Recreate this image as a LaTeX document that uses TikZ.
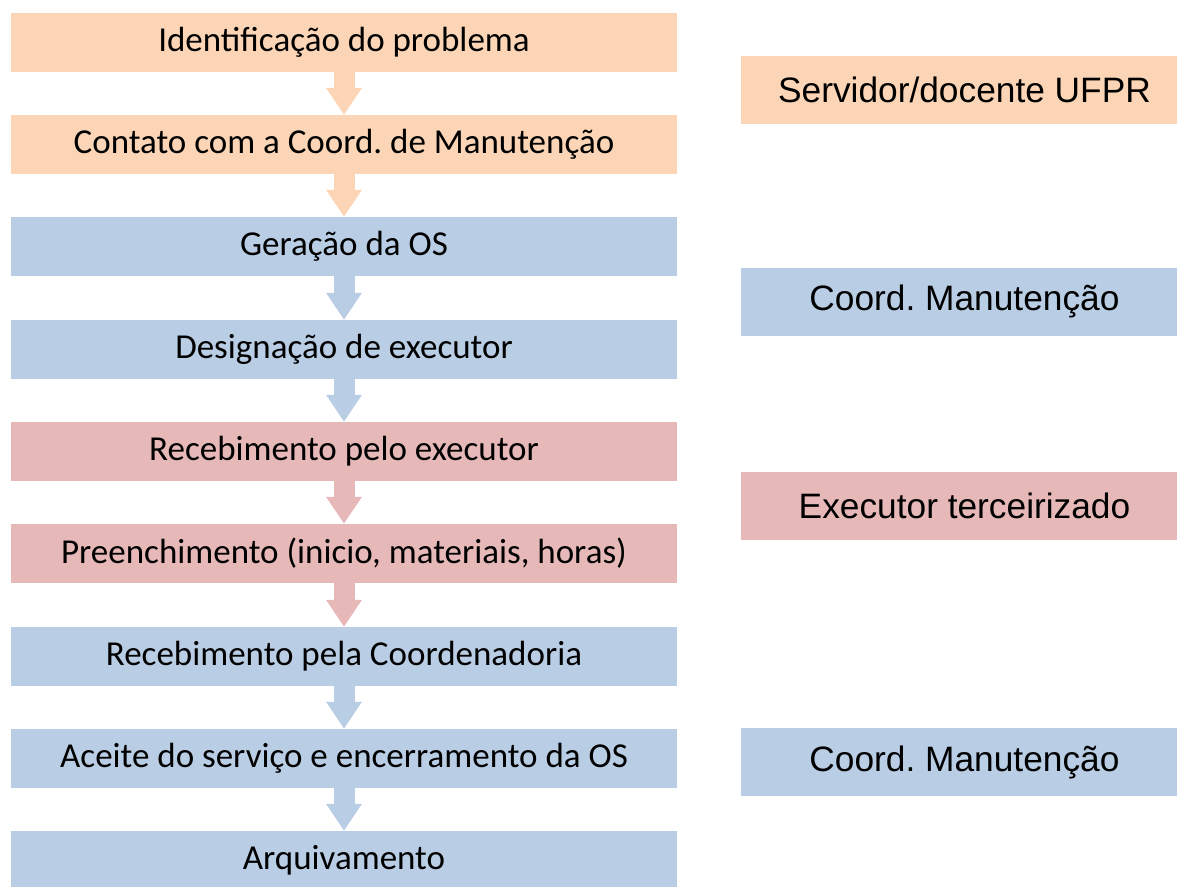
\documentclass[tikz,border=0pt]{standalone}
\usepackage{fontspec}
\setmainfont{Carlito}
\newfontfamily\arialf{Liberation Sans}
\usetikzlibrary{arrows.meta}
\definecolor{peach}{HTML}{FBD5B5}
\definecolor{bluebox}{HTML}{B9CDE5}
\definecolor{pinkbox}{HTML}{E6B9B8}
\frenchspacing
\tikzset{
  stepbox/.style={minimum width=666pt, minimum height=59pt, inner sep=0pt, font=\fontsize{35}{40}\selectfont},
  rolebox/.style={minimum width=447pt, minimum height=68pt, inner sep=0pt, font=\arialf\fontsize{35.3}{40}\selectfont},
  flow/.style={line width=21pt, -{Triangle[width=34pt,length=27pt]}},
}
\begin{document}
\begin{tikzpicture}[x=1pt,y=1pt]
\useasboundingbox (0,0) rectangle (1177,-886);
\clip (0,0) rectangle (1177,-886);
\node[stepbox, fill=peach] (s1) at (344,-42.5) {Identificação do problema};
\node[stepbox, fill=peach] (s2) at (344,-144.5) {Contato com a Coord. de Manutenção};
\node[stepbox, fill=bluebox] (s3) at (344,-246.5) {Geração da OS};
\node[stepbox, fill=bluebox] (s4) at (344,-349.5) {Designação de executor};
\node[stepbox, fill=pinkbox] (s5) at (344,-451.5) {Recebimento pelo executor};
\node[stepbox, fill=pinkbox] (s6) at (344,-553.5) {Preenchimento (inicio, materiais, horas)};
\node[stepbox, fill=bluebox] (s7) at (344,-656.5) {Recebimento pela Coordenadoria};
\node[stepbox, fill=bluebox] (s8) at (344,-758.5) {Aceite do serviço e encerramento da OS};
\node[stepbox, fill=bluebox] (s9) at (344,-860.5) {Arquivamento};
\draw[flow, peach] (s1.south) -- (s2.north);
\draw[flow, peach] (s2.south) -- (s3.north);
\draw[flow, bluebox] (s3.south) -- (s4.north);
\draw[flow, bluebox] (s4.south) -- (s5.north);
\draw[flow, pinkbox] (s5.south) -- (s6.north);
\draw[flow, pinkbox] (s6.south) -- (s7.north);
\draw[flow, bluebox] (s7.south) -- (s8.north);
\draw[flow, bluebox] (s8.south) -- (s9.north);
\node[rolebox, fill=peach] (r1) at (964.5,-90) {Servidor/docente UFPR};
\node[rolebox, fill=bluebox] (r2) at (964.5,-301.5) {Coord. Manutenção};
\node[rolebox, fill=pinkbox] (r3) at (964.5,-506) {Executor terceirizado};
\node[rolebox, fill=bluebox] (r4) at (964.5,-762) {Coord. Manutenção};
\end{tikzpicture}
\end{document}
